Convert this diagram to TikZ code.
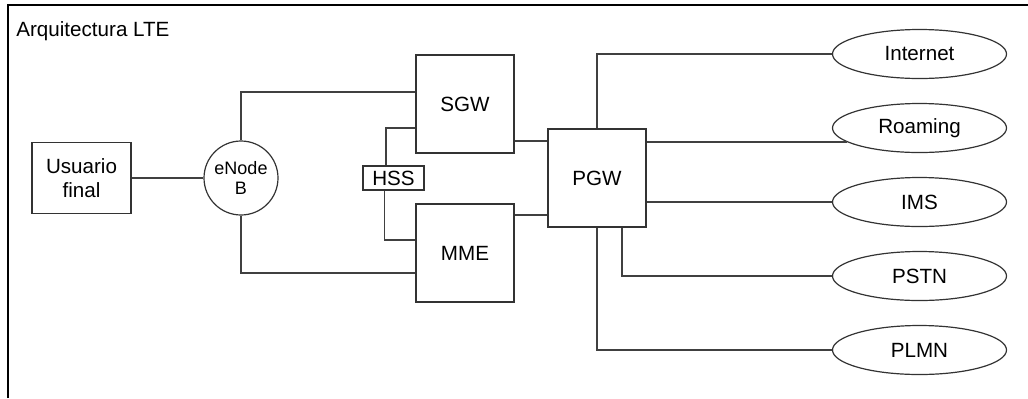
\documentclass[tikz,border=0pt]{standalone}
\usepackage{fontspec}
\setmainfont{Liberation Sans}
\usepackage{tikz}
\usetikzlibrary{positioning, shapes}

\tikzset{
	caja/.style = {draw=black!80, line width=0.6pt, minimum width=49pt, minimum height=49pt, inner sep=0pt, align=center},
	nodo/.style = {draw=black!80, line width=0.6pt, circle, minimum size=37pt, inner sep=0pt, align=center, font=\fontsize{9}{10}\selectfont},
	externa/.style = {draw=black!80, line width=0.6pt, ellipse, minimum width=87pt, minimum height=24.5pt, inner sep=0pt},
	enlace/.style = {draw=black!75, line width=0.6pt},
	marco/.style = {draw=black, line width=1pt}
}

\begin{document}
\begin{tikzpicture}[on grid, font=\fontsize{10.3}{12}\selectfont]
		\useasboundingbox (0,0) rectangle (514pt,-199pt);
		\draw [marco] (4pt,-199pt) |- (514pt,-2.5pt);
		\node [anchor=base west, inner sep=0pt] (titulo) at (8pt,-18.3pt) {Arquitectura LTE};

		\node [caja, minimum width=49.5pt, minimum height=35.5pt] (usuario) at (40.75pt,-89pt) {Usuario\\final};
		\node [nodo, right = 79.75pt of usuario] (enb) {eNode\\B};
		\node [caja, above right = 37pt and 112pt of enb] (sgw) {SGW};
		\node [caja, below = 74.5pt of sgw] (mme) {MME};
		\node [caja, right = 76.25pt of enb, minimum width=30.5pt, minimum height=12pt] (hss) {HSS};
		\node [caja, right = 178pt of enb] (pgw) {PGW};
		\node [externa, above right = 62pt and 161.25pt of pgw] (inet) {Internet};
		\node [externa, below = 37pt of inet] (roam) {Roaming};
		\node [externa, below = 37pt of roam] (ims) {IMS};
		\node [externa, below = 37pt of ims] (pstn) {PSTN};
		\node [externa, below = 37pt of pstn] (plmn) {PLMN};

		\coordinate (s1) at ([yshift=-18.5pt]sgw.east);
		\coordinate (m1) at ([yshift=19pt]mme.east);

		\draw [enlace] (usuario) -- (enb);
		\draw [enlace] (enb.north) |- ([yshift=6pt]sgw.west);
		\draw [enlace] (enb.south) |- ([yshift=-10pt]mme.west);
		\draw [enlace] ([xshift=-3.75pt]hss.north) |- ([yshift=-12pt]sgw.west);
		\draw [enlace] ([xshift=-4.5pt]hss.south) |- ([yshift=6.5pt]mme.west);
		\draw [enlace] (s1) -- (s1 -| pgw.west);
		\draw [enlace] (m1) -- (m1 -| pgw.west);
		\draw [enlace] (pgw.north) |- (inet.west);
		\draw [enlace] (pgw.east |- roam.191) -- (roam.191);
		\draw [enlace] (pgw.east |- ims.west) -- (ims.west);
		\draw [enlace] ([xshift=12.5pt]pgw.south) |- (pstn.west);
		\draw [enlace] (pgw.south) |- (plmn.west);
\end{tikzpicture}
\end{document}
